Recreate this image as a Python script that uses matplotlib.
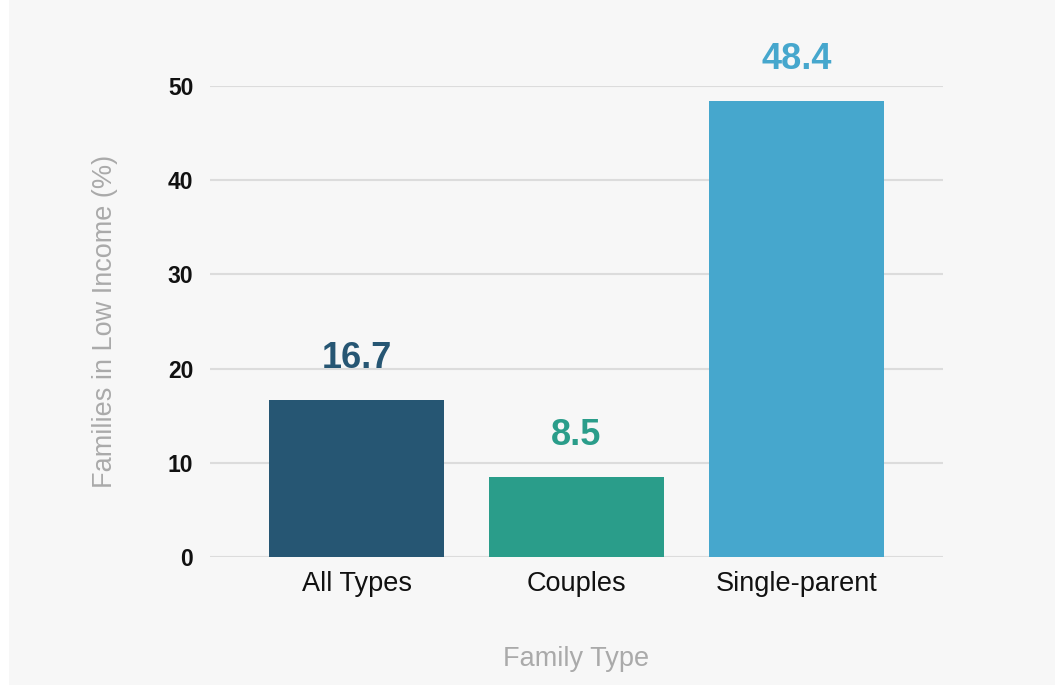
import matplotlib
matplotlib.use("Agg")
import matplotlib.pyplot as plt

categories = ["All Types", "Couples", "Single-parent"]
values = [16.7, 8.5, 48.4]
colors = ["#265673", "#2a9d8a", "#46a7cd"]
yticks = [0, 10, 20, 30, 40, 50]

plt.rcParams['font.family'] = ['Liberation Sans', 'DejaVu Sans']

fig = plt.figure(figsize=(10.55, 6.85), dpi=100)
fig.patch.set_facecolor("white")
bg = fig.add_axes([0.009, 0.0, 0.991, 1.0])
bg.set_facecolor("#f7f7f7")
bg.set_xticks([]); bg.set_yticks([])
for s in bg.spines.values():
    s.set_visible(False)
bg.set_zorder(-10)

ax = fig.add_axes([210/1055, 1-557/685, (943-210)/1055, (557-86)/685])
ax.set_facecolor("none")
x = list(range(len(categories)))
ax.bar(x, values, width=0.795, color=colors, zorder=3)
ax.set_xlim(-0.666, 2.666)
ax.set_ylim(0, 50)
ax.set_yticks(yticks)
ax.set_yticklabels([str(t) for t in yticks], fontsize=16.5, fontweight='bold', color='#111111')
ax.set_xticks(x)
ax.set_xticklabels(categories, fontsize=19.5, color='#111111')
ax.tick_params(axis='both', length=0)
ax.tick_params(axis='y', pad=12)
ax.tick_params(axis='x', pad=10)
ax.grid(axis='y', color='#dcdcdc', linewidth=1.5, zorder=0)
for s in ax.spines.values():
    s.set_visible(False)

for xi, v, c in zip(x, values, colors):
    ax.text(xi, v + 3.4, f"{v}", ha='center', va='baseline', fontsize=26,
            fontweight='bold', color=c, clip_on=False)

ax.set_ylabel("Families in Low Income (%)", fontsize=19.5, color='#aaaaaa', labelpad=36)
ax.set_xlabel("Family Type", fontsize=19.5, color='#aaaaaa', labelpad=35)

fig.savefig("out.png", dpi=100, facecolor=fig.get_facecolor())
